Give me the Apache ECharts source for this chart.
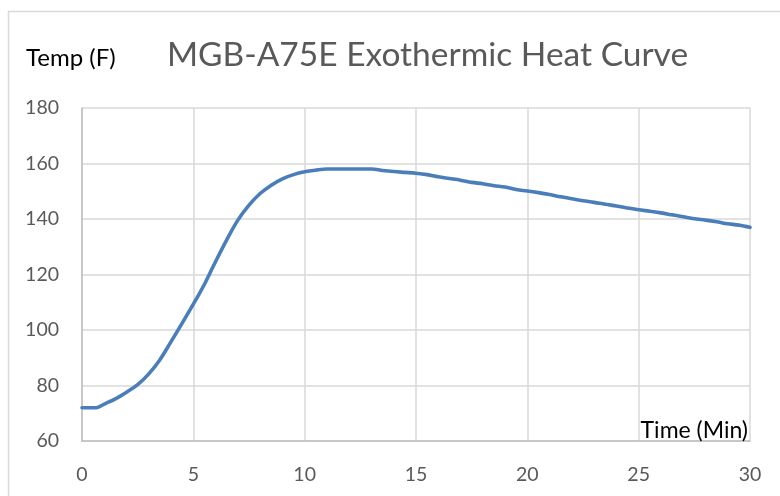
<!DOCTYPE html>
<html>
<head>
<meta charset="utf-8">
<script src="https://cdn.jsdelivr.net/npm/echarts@6/dist/echarts.min.js"></script>
<style>
html,body{margin:0;padding:0;background:#fff;}
#chart{width:780px;height:496px;}
</style>
</head>
<body>
<div id="chart"></div>
<script>
var chartTitle = 'MGB-A75E Exothermic Heat Curve';
var yAxisTitle = 'Temp (F)';
var xAxisTitle = 'Time (Min)';
var timeMin = [0, 0.5, 0.65, 1.0, 1.5, 2.0, 2.5, 3.0, 3.5, 4.0, 4.5, 5.0, 5.5, 6.0, 6.5, 7.0, 7.5, 8.0, 8.5, 9.0, 9.5, 10.0, 10.5, 11.0, 11.5, 12.0, 12.5, 13.0, 13.5, 14.0, 14.5, 15.0, 15.5, 16.0, 16.5, 17.0, 17.5, 18.0, 18.5, 19.0, 19.5, 20.0, 20.5, 21.0, 21.5, 22.0, 22.5, 23.0, 23.5, 24.0, 24.5, 25.0, 25.5, 26.0, 26.5, 27.0, 27.5, 28.0, 28.5, 29.0, 29.5, 30.0];
var tempF = [72, 72, 72, 73.3, 75.2, 77.6, 80.3, 84.2, 89.3, 95.8, 102.5, 109.3, 116.5, 124.7, 132.5, 139.6, 145.0, 149.2, 152.2, 154.5, 156.0, 157.0, 157.6, 158, 158, 158, 158, 158, 157.5, 157.1, 156.8, 156.5, 156.0, 155.2, 154.6, 154.0, 153.2, 152.7, 152.0, 151.5, 150.6, 150.1, 149.5, 148.8, 148.0, 147.3, 146.6, 146.0, 145.3, 144.7, 144.0, 143.3, 142.8, 142.2, 141.5, 140.8, 140.1, 139.6, 139.0, 138.3, 137.8, 137.0];
var xTicks = [0, 5, 10, 15, 20, 25, 30];
var yTicks = [60, 80, 100, 120, 140, 160, 180];

var seriesData = timeMin.map(function (t, i) { return [t, tempF[i]]; });

var chart = echarts.init(document.getElementById('chart'));
chart.setOption({
  animation: false,
  backgroundColor: '#ffffff',
  title: [
    { text: chartTitle, left: 167, top: 38, padding: 0,
      textStyle: { fontFamily: 'Lato', fontSize: 33.5, fontWeight: 'normal', color: '#595959' } },
    { text: yAxisTitle, left: 26, top: 46, padding: 0,
      textStyle: { fontFamily: 'Lato', fontSize: 24, fontWeight: 'normal', color: '#000000' } },
    { text: xAxisTitle, right: 32, top: 419, padding: 0,
      textStyle: { fontFamily: 'Lato', fontSize: 23, fontWeight: 'normal', color: '#000000' } }
  ],
  graphic: [
    { type: 'rect', left: 6, top: 9, shape: { width: 800, height: 520 },
      style: { fill: 'none', stroke: '#d9d9d9', lineWidth: 1.5 }, silent: true, z: -1 }
  ],
  grid: { left: 82, right: 30, top: 108, bottom: 55, containLabel: false },
  xAxis: {
    type: 'value', min: xTicks[0], max: xTicks[xTicks.length - 1], interval: 5,
    axisLine: { show: true, onZero: false, lineStyle: { color: '#bfbfbf', width: 1.5 } },
    axisTick: { show: false },
    splitLine: { show: true, lineStyle: { color: '#d9d9d9', width: 1.5 } },
    axisLabel: { margin: 24, fontFamily: 'Lato', fontSize: 19.5, color: '#595959' }
  },
  yAxis: {
    type: 'value', min: yTicks[0], max: yTicks[yTicks.length - 1], interval: 20,
    axisLine: { show: true, lineStyle: { color: '#bfbfbf', width: 1.5 } },
    axisTick: { show: false },
    splitLine: { show: true, lineStyle: { color: '#d9d9d9', width: 1.5 } },
    axisLabel: { margin: 23, fontFamily: 'Lato', fontSize: 19.5, color: '#595959' }
  },
  series: [{
    type: 'line', data: seriesData, showSymbol: false, smooth: 0.35,
    lineStyle: { color: '#4a7ebb', width: 3.6, join: 'round', cap: 'round' }
  }]
});
</script>
</body>
</html>
